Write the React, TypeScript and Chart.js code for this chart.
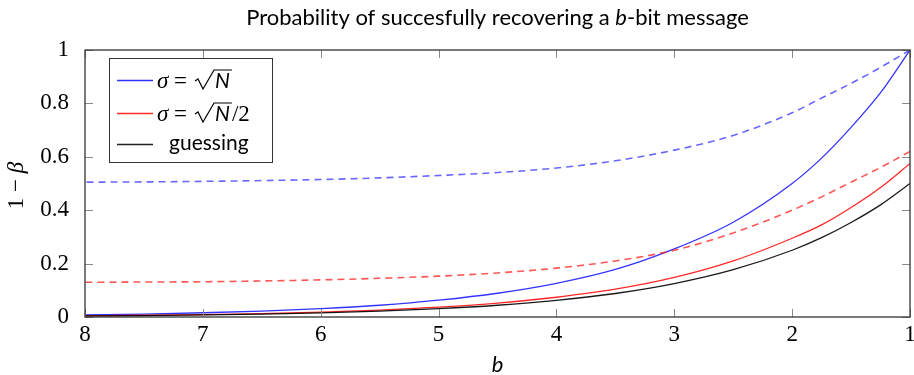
import React, { useEffect, useRef } from 'react';
import { Chart, registerables } from 'chart.js';

Chart.register(...registerables);

// b (bits), plotted from 8 down to 1
const bitCounts = [1, 1.25, 1.5, 1.75, 2, 2.5, 3, 3.5, 4, 4.5, 5, 5.5, 6, 6.5, 7, 7.5, 8];
// sigma = sqrt(N), solid
const sigmaSqrtN = [1.0, 0.84, 0.71, 0.595, 0.5, 0.355, 0.255, 0.178, 0.126, 0.089, 0.063, 0.044, 0.031, 0.022, 0.016, 0.011, 0.008];
// sigma = sqrt(N)/2, solid
const sigmaHalfSqrtN = [0.575, 0.485, 0.41, 0.345, 0.295, 0.21, 0.148, 0.104, 0.074, 0.052, 0.037, 0.026, 0.018, 0.013, 0.009, 0.0065, 0.0046];
// guessing
const guessing = [0.5, 0.42, 0.354, 0.297, 0.25, 0.177, 0.125, 0.088, 0.0625, 0.044, 0.031, 0.022, 0.0156, 0.011, 0.0078, 0.0055, 0.0039];
// sigma = sqrt(N), dashed
const sigmaSqrtNDashed = [1.0, 0.935, 0.875, 0.82, 0.765, 0.68, 0.625, 0.585, 0.558, 0.541, 0.53, 0.521, 0.515, 0.511, 0.508, 0.506, 0.505];
// sigma = sqrt(N)/2, dashed
const sigmaHalfSqrtNDashed = [0.62, 0.56, 0.505, 0.45, 0.4, 0.315, 0.25, 0.21, 0.183, 0.165, 0.153, 0.145, 0.139, 0.135, 0.132, 0.131, 0.13];

const xTickValues = [1, 2, 3, 4, 5, 6, 7, 8];
const yTickValues = [0, 0.2, 0.4, 0.6, 0.8, 1];

const titleParts = ['Probability of succesfully recovering a ', 'b', '-bit message'];
const legendLabels = ['guessing'];

const BLUE = 'rgba(0,0,255,0.8)';
const BLUE_DASH = 'rgba(40,40,255,0.7)';
const RED = 'rgba(255,0,0,0.85)';
const RED_DASH = 'rgba(255,30,30,0.75)';
const BLACK = 'rgba(0,0,0,0.9)';

const SERIF = "'Liberation Serif', serif";
const SANS = "Lato, 'Open Sans', sans-serif";

type Run = { text: string; font: string };

function runsWidth(ctx: CanvasRenderingContext2D, runs: Run[]) {
  let w = 0;
  for (const r of runs) {
    ctx.font = r.font;
    w += ctx.measureText(r.text).width;
  }
  return w;
}

function drawRuns(ctx: CanvasRenderingContext2D, runs: Run[], x: number, y: number) {
  let cx = x;
  for (const r of runs) {
    ctx.font = r.font;
    ctx.fillText(r.text, cx, y);
    cx += ctx.measureText(r.text).width;
  }
  return cx;
}

function toPoints(values: number[]) {
  return bitCounts.map((b, i) => ({ x: b, y: values[i] }));
}

function drawSigmaSqrtN(ctx: CanvasRenderingContext2D, x: number, base: number, withHalf: boolean) {
  ctx.fillStyle = '#000';
  ctx.textBaseline = 'alphabetic';
  ctx.textAlign = 'left';
  ctx.font = `italic 23px ${SERIF}`;
  ctx.fillText('σ', x, base);
  ctx.font = `23px ${SERIF}`;
  ctx.fillText('=', x + 17, base);
  // radical
  const rx = x + 38;
  ctx.font = `italic 21px ${SANS}`;
  const nW = ctx.measureText('N').width;
  ctx.strokeStyle = '#000';
  ctx.lineWidth = 1.2;
  ctx.beginPath();
  ctx.moveTo(rx, base - 7);
  ctx.lineTo(rx + 3, base - 9);
  ctx.lineTo(rx + 8, base + 1);
  ctx.lineTo(rx + 19, base - 18);
  ctx.lineTo(rx + 21 + nW + 1, base - 18);
  ctx.stroke();
  ctx.fillText('N', rx + 20, base);
  if (withHalf) {
    ctx.font = `23px ${SERIF}`;
    ctx.fillText('/2', rx + 21 + nW + 1, base);
  }
}

const decorPlugin = {
  id: 'decor',
  afterDraw(chart: any) {
    const { ctx, chartArea: a, scales } = chart;
    const xs = scales.x;
    const ys = scales.y;
    ctx.save();

    // inward tick marks
    ctx.strokeStyle = '#8a8a8a';
    ctx.lineWidth = 1;
    ctx.beginPath();
    for (const v of xTickValues) {
      const px = Math.round(xs.getPixelForValue(v)) + 0.5;
      ctx.moveTo(px, a.bottom);
      ctx.lineTo(px, a.bottom - 8);
      ctx.moveTo(px, a.top);
      ctx.lineTo(px, a.top + 8);
    }
    for (const v of yTickValues) {
      const py = Math.round(ys.getPixelForValue(v)) + 0.5;
      ctx.moveTo(a.left, py);
      ctx.lineTo(a.left + 8, py);
      ctx.moveTo(a.right, py);
      ctx.lineTo(a.right - 8, py);
    }
    ctx.stroke();

    // frame
    ctx.strokeStyle = '#333';
    ctx.lineWidth = 1.3;
    ctx.strokeRect(a.left, a.top, a.right - a.left, a.bottom - a.top);

    // title
    ctx.fillStyle = '#000';
    ctx.textBaseline = 'alphabetic';
    ctx.textAlign = 'left';
    const tRuns: Run[] = [
      { text: titleParts[0], font: `22px ${SANS}` },
      { text: titleParts[1], font: `italic 22px ${SANS}` },
      { text: titleParts[2], font: `22px ${SANS}` },
    ];
    const tw = runsWidth(ctx, tRuns);
    drawRuns(ctx, tRuns, (a.left + a.right) / 2 - tw / 2, 25);

    // x axis label
    ctx.font = `italic 22px ${SANS}`;
    ctx.textAlign = 'center';
    ctx.fillText('b', (a.left + a.right) / 2, 372);

    // y axis label (rotated)
    ctx.save();
    ctx.translate(23, (a.top + a.bottom) / 2 + 2);
    ctx.rotate(-Math.PI / 2);
    ctx.textAlign = 'left';
    const yRuns: Run[] = [
      { text: '1 − ', font: `23px ${SERIF}` },
      { text: 'β', font: `italic 23px ${SERIF}` },
    ];
    const yw = runsWidth(ctx, yRuns);
    drawRuns(ctx, yRuns, -yw / 2, 0);
    ctx.restore();

    // legend
    const lx = 109.5, ly = 58.5, lw = 163, lh = 104;
    ctx.fillStyle = '#fff';
    ctx.fillRect(lx, ly, lw, lh);
    ctx.strokeStyle = '#333';
    ctx.lineWidth = 1;
    ctx.strokeRect(lx, ly, lw, lh);

    const rows = [
      { y: 80, color: '#3030ff' },
      { y: 113, color: '#ff2a2a' },
      { y: 144, color: '#222' },
    ];
    for (const r of rows) {
      ctx.strokeStyle = r.color;
      ctx.lineWidth = 1.3;
      ctx.beginPath();
      ctx.moveTo(117, r.y + 0.5);
      ctx.lineTo(153, r.y + 0.5);
      ctx.stroke();
    }
    drawSigmaSqrtN(ctx, 157, 88, false);
    drawSigmaSqrtN(ctx, 157, 121, true);
    ctx.fillStyle = '#000';
    ctx.font = `21px ${SANS}`;
    ctx.textAlign = 'left';
    ctx.fillText(legendLabels[0], 169, 150);

    ctx.restore();
  },
};

export default function App() {
  const canvasRef = useRef<HTMLCanvasElement | null>(null);

  useEffect(() => {
    document.body.style.margin = '0';
    const canvas = canvasRef.current;
    if (!canvas) return;
    const chart = new Chart(canvas, {
      type: 'line',
      data: {
        datasets: [
          {
            label: 'σ = √N/2 (dashed)',
            data: toPoints(sigmaHalfSqrtNDashed),
            borderColor: RED_DASH,
            borderWidth: 1.6,
            borderDash: [7, 5],
            pointRadius: 0,
            cubicInterpolationMode: 'monotone',
            fill: false,
          },
          {
            label: 'σ = √N (dashed)',
            data: toPoints(sigmaSqrtNDashed),
            borderColor: BLUE_DASH,
            borderWidth: 1.6,
            borderDash: [7, 5],
            pointRadius: 0,
            cubicInterpolationMode: 'monotone',
            fill: false,
          },
          {
            label: 'guessing',
            data: toPoints(guessing),
            borderColor: BLACK,
            borderWidth: 1.3,
            pointRadius: 0,
            cubicInterpolationMode: 'monotone',
            fill: false,
          },
          {
            label: 'σ = √N/2',
            data: toPoints(sigmaHalfSqrtN),
            borderColor: RED,
            borderWidth: 1.3,
            pointRadius: 0,
            cubicInterpolationMode: 'monotone',
            fill: false,
          },
          {
            label: 'σ = √N',
            data: toPoints(sigmaSqrtN),
            borderColor: BLUE,
            borderWidth: 1.3,
            pointRadius: 0,
            cubicInterpolationMode: 'monotone',
            fill: false,
          },
        ],
      },
      options: {
        animation: false,
        responsive: false,
        layout: { padding: { top: 50, right: 4, left: 0, bottom: 0 } },
        plugins: {
          legend: { display: false },
          title: { display: false },
          tooltip: { enabled: false },
        },
        scales: {
          x: {
            type: 'linear',
            min: 1,
            max: 8,
            reverse: true,
            grid: { display: false },
            border: { display: false },
            afterBuildTicks: (s: any) => {
              s.ticks = xTickValues.map((v) => ({ value: v }));
            },
            afterFit: (s: any) => {
              s.height = 58;
              s.paddingLeft = 0;
              s.paddingRight = 0;
            },
            ticks: {
              color: '#000',
              font: { family: SERIF, size: 23 },
              padding: -4,
              maxRotation: 0,
              autoSkip: false,
              callback: (v: any) => String(v),
            },
          },
          y: {
            type: 'linear',
            min: 0,
            max: 1,
            grid: { display: false },
            border: { display: false },
            afterBuildTicks: (s: any) => {
              s.ticks = yTickValues.map((v) => ({ value: v }));
            },
            afterFit: (s: any) => {
              s.width = 85;
              s.paddingTop = 0;
              s.paddingBottom = 0;
            },
            ticks: {
              color: '#000',
              font: { family: SERIF, size: 23 },
              padding: 8,
              autoSkip: false,
              callback: (v: any) => String(Math.round(Number(v) * 10) / 10),
            },
          },
        },
      },
      plugins: [decorPlugin],
    });
    return () => chart.destroy();
  }, []);

  return (
    <div style={{ width: 914, height: 375 }}>
      <canvas ref={canvasRef} width={914} height={375} />
    </div>
  );
}
